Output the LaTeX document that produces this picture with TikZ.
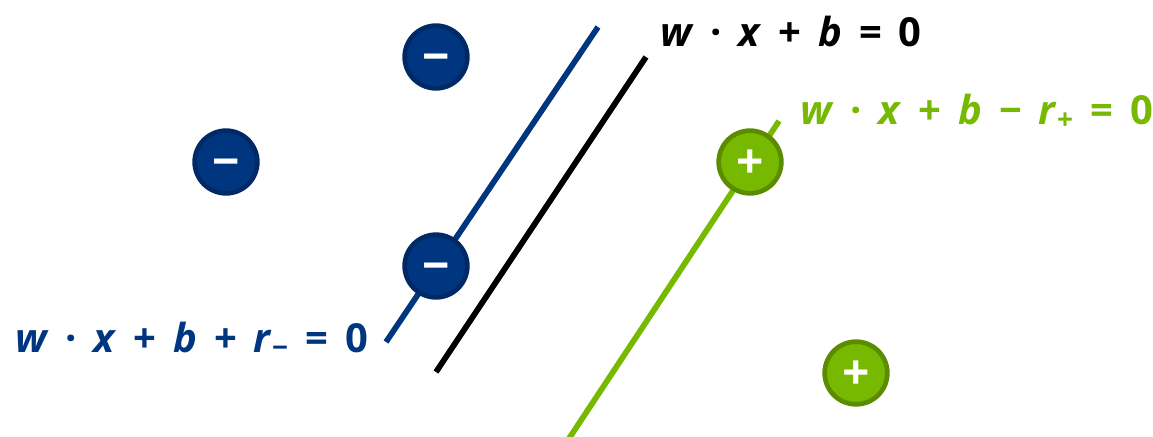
\documentclass[tikz,border=0pt]{standalone}
\usepackage{fontspec}
\setmainfont{Open Sans}
\usepackage{xcolor}
\usetikzlibrary{positioning, calc}

\definecolor{negblue}{HTML}{003580}
\definecolor{negedge}{HTML}{002A66}
\definecolor{posgreen}{HTML}{76B900}
\definecolor{posedge}{HTML}{5B8C00}

\newcommand{\opgap}{\hspace{0.42em}}

\begin{document}
\begin{tikzpicture}[
    x=0.75pt, y=-0.75pt,
    plane line/.style={line width=4.3pt},
    sample/.style={circle, minimum size=47pt, inner sep=0pt, line width=3.5pt,
        text height=25pt, text depth=0pt,
        text=white, font=\fontsize{36}{36}\selectfont\bfseries},
    neg sample/.style={sample, fill=negblue, draw=negedge},
    pos sample/.style={sample, fill=posgreen, draw=posedge},
    eq label/.style={font=\fontsize{30}{30}\selectfont\bfseries, inner sep=0pt}
]

\useasboundingbox (0,0) rectangle (1153,436);

% --- 1. Hyperplanes ---
\coordinate (negA) at (386,342);
\coordinate (negB) at (598,27);
\coordinate (midA) at (436,372);
\coordinate (midB) at (646,57);
\coordinate (posA) at (568,440);
\coordinate (posB) at (779,121);

\draw[plane line, negblue] (negA) -- (negB);
\draw[plane line, black] (midA) -- (midB);
\draw[plane line, posgreen] (posA) -- (posB);

% --- 2. Samples ---
\node[neg sample] (n1) at (436,57) {−};
\node[neg sample] (n2) at (226,162) {−};
\node[neg sample] (n3) at (436,266) {−};

\node[pos sample] (p1) at (750,162) {+};
\node[pos sample] (p2) at (856,373) {+};

% --- 3. Equations ---
\node[eq label, text=black, anchor=west] (eqMid) at (660,31)
    {\textit{w}\opgap·\opgap\textit{x}\opgap+\opgap\textit{b}\opgap=\opgap0};
\node[eq label, text=posgreen, anchor=west] (eqPos) at (800,112)
    {\textit{w}\opgap·\opgap\textit{x}\opgap+\opgap\textit{b}\opgap−\opgap\textit{r}\textsubscript{+}\opgap=\opgap0};
\node[eq label, text=negblue, anchor=west] (eqNeg) at (15,340)
    {\textit{w}\opgap·\opgap\textit{x}\opgap+\opgap\textit{b}\opgap+\opgap\textit{r}\textsubscript{−}\opgap=\opgap0};

\end{tikzpicture}
\end{document}
